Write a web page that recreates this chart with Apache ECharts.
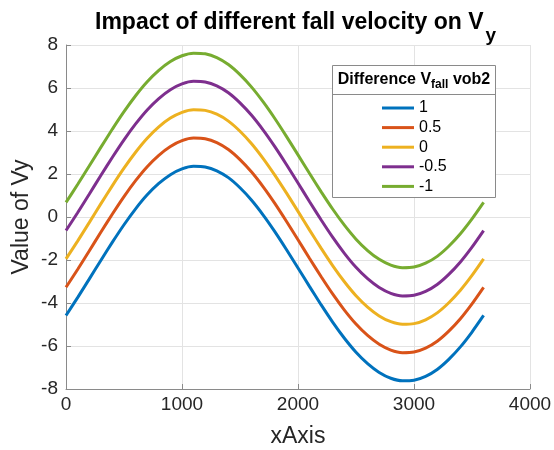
<!DOCTYPE html>
<html>
<head>
<meta charset="utf-8">
<script src="https://cdn.jsdelivr.net/npm/echarts@6/dist/echarts.min.js"></script>
<style>html,body{margin:0;padding:0;background:#fff}#c{width:554px;height:450px}</style>
</head>
<body>
<div id="c"></div>
<script>
var xValues = [0,100,200,300,400,500,600,700,800,900,1000,1100,1200,1300,1400,1500,1600,1700,1800,1900,2000,2100,2200,2300,2400,2500,2600,2700,2800,2900,3000,3100,3200,3300,3400,3500,3600];
var seriesNames = ['1','0.5','0','-0.5','-1'];
var vyDiff1 = [-4.58,-3.75,-2.89,-2.02,-1.17,-0.36,0.38,1.03,1.56,1.97,2.24,2.36,2.33,2.15,1.83,1.36,0.78,0.09,-0.68,-1.51,-2.37,-3.24,-4.09,-4.90,-5.64,-6.29,-6.82,-7.23,-7.50,-7.62,-7.59,-7.41,-7.09,-6.62,-6.04,-5.35,-4.58];
var vyDiff05 = [-3.27,-2.44,-1.58,-0.71,0.14,0.95,1.69,2.34,2.87,3.28,3.55,3.67,3.64,3.46,3.14,2.67,2.09,1.40,0.63,-0.20,-1.06,-1.93,-2.78,-3.59,-4.33,-4.98,-5.51,-5.92,-6.19,-6.31,-6.28,-6.10,-5.78,-5.31,-4.73,-4.04,-3.27];
var vyDiff0 = [-1.95,-1.12,-0.26,0.61,1.46,2.27,3.01,3.66,4.19,4.60,4.87,4.99,4.96,4.78,4.46,3.99,3.41,2.72,1.95,1.12,0.26,-0.61,-1.46,-2.27,-3.01,-3.66,-4.19,-4.60,-4.87,-4.99,-4.96,-4.78,-4.46,-3.99,-3.41,-2.72,-1.95];
var vyDiffM05 = [-0.63,0.20,1.06,1.93,2.78,3.59,4.33,4.98,5.51,5.92,6.19,6.31,6.28,6.10,5.78,5.31,4.73,4.04,3.27,2.44,1.58,0.71,-0.14,-0.95,-1.69,-2.34,-2.87,-3.28,-3.55,-3.67,-3.64,-3.46,-3.14,-2.67,-2.09,-1.40,-0.63];
var vyDiffM1 = [0.68,1.51,2.37,3.24,4.09,4.90,5.64,6.29,6.82,7.23,7.50,7.62,7.59,7.41,7.09,6.62,6.04,5.35,4.58,3.75,2.89,2.02,1.17,0.36,-0.38,-1.03,-1.56,-1.97,-2.24,-2.36,-2.33,-2.15,-1.83,-1.36,-0.78,-0.09,0.68];
var xTicks = [0,1000,2000,3000,4000];
var yTicks = [-8,-6,-4,-2,0,2,4,6,8];

var allValues = [vyDiff1, vyDiff05, vyDiff0, vyDiffM05, vyDiffM1];
var colors = ['#0072BD','#D95319','#EDB120','#7E2F8E','#77AC30'];
var FONT = 'Liberation Sans, Arial, Helvetica, sans-serif';

var chart = echarts.init(document.getElementById('c'), null, {renderer:'canvas'});
var series = allValues.map(function(vals, i){
  return {
    name: seriesNames[i],
    type: 'line',
    data: xValues.map(function(x, j){ return [x, vals[j]]; }),
    smooth: 0.2,
    showSymbol: false,
    symbol: 'none',
    lineStyle: {width: 3, color: colors[i]},
    itemStyle: {color: colors[i]},
    z: 3
  };
});

var axisCommon = {
  axisLine: {show: true, onZero: false, lineStyle: {color: '#8a8a8a', width: 1}},
  axisTick: {show: true, inside: true, length: 5, lineStyle: {color: '#8a8a8a'}},
  splitLine: {show: true, lineStyle: {color: '#e3e3e3', width: 1}},
  axisLabel: {color: '#262626', fontSize: 19, fontFamily: FONT, formatter: function(v){ return String(v); }},
  nameTextStyle: {color: '#262626', fontSize: 23, fontFamily: FONT}
};

chart.setOption({
  animation: false,
  backgroundColor: '#fff',
  title: {
    text: 'Impact of different fall velocity on V{sub|y}',
    left: 95,
    top: 0,
    padding: 0,
    textStyle: {
      fontSize: 23, fontWeight: 'bold', color: '#000', fontFamily: FONT,
      rich: {
        sub: {fontSize: 19, fontWeight: 'bold', color: '#000', fontFamily: FONT, padding: [26, 0, 0, 2]}
      }
    }
  },
  grid: {left: 66, right: 24, top: 45, bottom: 61, containLabel: false, outerBoundsMode: 'none'},
  xAxis: Object.assign({}, axisCommon, {
    type: 'value', min: xTicks[0], max: xTicks[xTicks.length-1], interval: 1000,
    name: 'xAxis', nameLocation: 'middle', nameGap: 36,
    axisLabel: Object.assign({}, axisCommon.axisLabel, {margin: 6})
  }),
  yAxis: Object.assign({}, axisCommon, {
    type: 'value', min: yTicks[0], max: yTicks[yTicks.length-1], interval: 2,
    name: 'Value of Vy', nameLocation: 'middle', nameGap: 33, nameMoveOverlap: false,
    axisLabel: Object.assign({}, axisCommon.axisLabel, {margin: 8})
  }),
  legend: {
    data: seriesNames,
    orient: 'vertical',
    left: 382,
    top: 100,
    padding: 0,
    itemWidth: 32,
    itemHeight: 3,
    itemGap: 3.6,
    icon: 'rect',
    z: 200,
    textStyle: {fontSize: 16, lineHeight: 16, color: '#000', fontFamily: FONT}
  },
  graphic: [
    {type: 'rect', z: 100, shape: {x: 332.5, y: 65.5, width: 163, height: 132},
     style: {fill: '#fff', stroke: '#8a8a8a', lineWidth: 1}},
    {type: 'line', z: 101, shape: {x1: 332.5, y1: 94.5, x2: 495.5, y2: 94.5},
     style: {stroke: '#8a8a8a', lineWidth: 1}},
    {type: 'text', z: 102, x: 414, y: 80,
     style: {
       text: 'Difference V{s|fall} vob2',
       align: 'center', verticalAlign: 'middle',
       font: 'bold 16px ' + FONT, fill: '#000',
       rich: {s: {font: 'bold 12px ' + FONT, fill: '#000', padding: [10, 0, 0, 0]}}
     }}
  ],
  series: series
});
</script>
</body>
</html>
